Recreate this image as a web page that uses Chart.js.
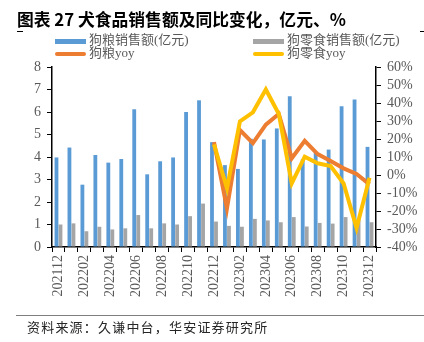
<!DOCTYPE html>
<html>
<head>
<meta charset="utf-8">
<script src="https://cdn.jsdelivr.net/npm/chart.js@4.4.1/dist/chart.umd.min.js"></script>
<style>
  html, body { margin: 0; padding: 0; background: #fff; }
  #wrap { position: relative; width: 424px; height: 342px; overflow: hidden; }
  #c { position: absolute; left: 0; top: 0; }
  .title { position: absolute; left: 17px; top: 7px; font: bold 16.8px "Noto Sans CJK SC", sans-serif; color: #000; white-space: nowrap; }
  .mark { position: absolute; height: 1px; background: #000; top: 31px; }
  .leg { position: absolute; font: 13px "Liberation Serif", "Noto Sans CJK SC", serif; color: #595959; white-space: nowrap; line-height: 14px; }
  .leg i { display: inline-block; width: 31px; vertical-align: middle; margin-right: 3px; }
  .src-line { position: absolute; left: 16px; right: 0; top: 315px; height: 1px; background: #7f7f7f; }
  .src { position: absolute; left: 27px; top: 317px; font: 13px "Noto Sans CJK SC", sans-serif; color: #262626; letter-spacing: 1.2px; white-space: nowrap; }
</style>
</head>
<body>
<div id="wrap">
  <canvas id="c" width="424" height="342"></canvas>
  <div class="title">图表 27 犬食品销售额及同比变化，亿元、%</div>
  <div class="mark" style="left:17px;width:6px"></div>
  <div class="mark" style="left:420px;width:4px"></div>
  <div class="leg" style="left:55px;top:33px"><i style="height:5px;background:#5B9BD5"></i>狗粮销售额(亿元)</div>
  <div class="leg" style="left:253px;top:33px"><i style="height:5px;background:#A5A5A5"></i>狗零食销售额(亿元)</div>
  <div class="leg" style="left:55px;top:46px"><i style="height:4px;border-radius:2px;background:#ED7D31"></i>狗粮yoy</div>
  <div class="leg" style="left:253px;top:46px"><i style="height:4px;border-radius:2px;background:#FFC000"></i>狗零食yoy</div>
  <div class="src-line"></div>
  <div class="src">资料来源：久谦中台，华安证券研究所</div>
</div>
<script>
const months = ['202112', '202201', '202202', '202203', '202204', '202205', '202206', '202207', '202208',
  '202209', '202210', '202211', '202212', '202301', '202302', '202303', '202304', '202305', '202306',
  '202307', '202308', '202309', '202310', '202311', '202312']
// 狗粮销售额(亿元)
const foodSales = [3.98, 4.42, 2.77, 4.09, 3.75, 3.91, 6.12, 3.23, 3.81, 3.98, 6.0, 6.52, 4.66,
  3.64, 3.47, 4.81, 4.78, 5.27, 6.7, 3.9, 4.2, 4.33, 6.26, 6.56, 4.45]
// 狗零食销售额(亿元)
const snackSales = [1.0, 1.05, 0.7, 0.9, 0.78, 0.83, 1.42, 0.83, 1.05, 1.0, 1.37, 1.93, 1.13,
  0.94, 0.9, 1.25, 1.18, 1.1, 1.33, 0.91, 1.07, 1.04, 1.33, 1.2, 1.1]
// yoy, %
const foodYoy = [null, null, null, null, null, null, null, null, null, null, null, null,
  18.3, -18.6, 25, 17.7, 28, 33.9, 9.3, 19, 11.6, 7.8, 3.7, 0.6, -5.2]
const snackYoy = [null, null, null, null, null, null, null, null, null, null, null, null,
  17, -7.4, 29.8, 34.8, 47.5, 33.9, -4.7, 10.2, 6.5, 5, -4.7, -29.4, -1.5]

const tickFont = { family: '"Liberation Serif", "Times New Roman", serif', size: 14 }
const tickColor = '#595959'

new Chart(document.getElementById('c'), {
  type: 'bar',
  data: {
    labels: months,
    datasets: [{
      label: '狗零食yoy',
      type: 'line',
      data: snackYoy,
      borderColor: '#FFC000',
      borderWidth: 4,
      pointRadius: 0,
      tension: 0,
      yAxisID: 'y1',
      order: 0,
    }, {
      label: '狗粮yoy',
      type: 'line',
      data: foodYoy,
      borderColor: '#ED7D31',
      borderWidth: 4,
      pointRadius: 0,
      tension: 0,
      yAxisID: 'y1',
      order: 1,
    }, {
      label: '狗粮销售额(亿元)',
      data: foodSales,
      backgroundColor: '#5B9BD5',
      yAxisID: 'y',
      order: 2,
      categoryPercentage: 0.62,
      barPercentage: 0.95,
    }, {
      label: '狗零食销售额(亿元)',
      data: snackSales,
      backgroundColor: '#A5A5A5',
      yAxisID: 'y',
      order: 3,
      categoryPercentage: 0.62,
      barPercentage: 0.95,
    }]
  },
  options: {
    responsive: false,
    animation: false,
    devicePixelRatio: 1,
    layout: { padding: { top: 67, left: 0, right: 0, bottom: 0 } },
    plugins: {
      legend: { display: false },
      tooltip: { enabled: false },
    },
    scales: {
      x: {
        offset: true,
        afterFit: (s) => { s.height = 95 },
        grid: { display: true, drawOnChartArea: false, offset: true, tickLength: 5, color: '#000', lineWidth: 1 },
        border: { color: '#000', width: 1.5 },
        ticks: {
          autoSkip: false,
          maxRotation: 90,
          minRotation: 90,
          padding: 3,
          font: tickFont,
          color: tickColor,
          callback: (v, i) => (i % 2 === 0 ? months[i] : ''),
        },
      },
      y: {
        position: 'left',
        min: 0,
        max: 8,
        afterFit: (s) => { s.width = 52 },
        grid: { drawOnChartArea: false, tickLength: 5, color: '#000', lineWidth: 1 },
        border: { color: '#000', width: 1.5 },
        ticks: { stepSize: 1, autoSkip: false, padding: 6, font: tickFont, color: tickColor },
      },
      y1: {
        position: 'right',
        min: -40,
        max: 60,
        afterFit: (s) => { s.width = 48 },
        grid: { drawOnChartArea: false, tickLength: 5, color: '#000', lineWidth: 1 },
        border: { color: '#000', width: 1.5 },
        ticks: { stepSize: 10, autoSkip: false, padding: 6, font: tickFont, color: tickColor, callback: (v) => v + '%' },
      },
    },
  },
})
</script>
</body>
</html>
